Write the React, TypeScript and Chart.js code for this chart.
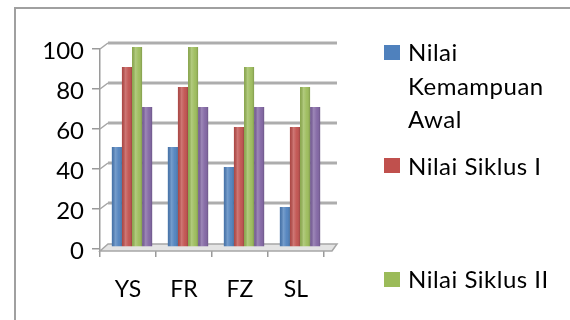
import React, { useEffect, useRef } from 'react';
import { Chart, registerables } from 'chart.js';

Chart.register(...registerables);

const categories = ['YS', 'FR', 'FZ', 'SL'];
const nilaiKemampuanAwal = [50, 50, 40, 20];
const nilaiSiklusI = [90, 80, 60, 60];
const nilaiSiklusII = [100, 100, 90, 80];
const nilaiKeempat = [70, 70, 70, 70];
const seriesNames = ['Nilai Kemampuan Awal', 'Nilai Siklus I', 'Nilai Siklus II', ''];
const legendLines = [['Nilai', 'Kemampuan', 'Awal'], ['Nilai Siklus I'], ['Nilai Siklus II']];
const yMin = 0;
const yMax = 100;
const yStep = 20;

const colors = ['#4F81BD', '#C0504D', '#9BBB59', '#8064A2'];
const FONT = 'Lato, "Open Sans", sans-serif';
const DX = 8;
const DY = 6;
const BAR_SHIFT_X = 4;
const BAR_SHIFT_Y = -2;

const wallsPlugin = {
  id: 'walls3d',
  beforeDatasetsDraw(chart: any) {
    const { ctx, chartArea, scales } = chart;
    const { left, right, bottom } = chartArea;
    const y = scales.y;
    ctx.save();
    // floor
    ctx.beginPath();
    ctx.moveTo(left, bottom + 2);
    ctx.lineTo(left + DX, bottom + 2 - DY - 1);
    ctx.lineTo(right + 13, bottom + 2 - DY - 1);
    ctx.lineTo(right + 8, bottom + 2);
    ctx.closePath();
    ctx.fillStyle = '#e4e4e4';
    ctx.fill();
    ctx.strokeStyle = '#a6a6a6';
    ctx.lineWidth = 1.5;
    ctx.stroke();
    // back wall grid lines
    for (let v = yMin + yStep; v <= yMax; v += yStep) {
      const yy = y.getPixelForValue(v);
      ctx.beginPath();
      ctx.moveTo(left, yy);
      ctx.lineTo(left + DX, yy - DY);
      ctx.strokeStyle = '#a6a6a6';
      ctx.lineWidth = 1.5;
      ctx.stroke();
      ctx.beginPath();
      ctx.moveTo(left + DX, yy - DY);
      ctx.lineTo(right + 13, yy - DY);
      ctx.strokeStyle = '#adadad';
      ctx.lineWidth = 3;
      ctx.stroke();
    }
    ctx.restore();
    ctx.save();
    ctx.translate(BAR_SHIFT_X, BAR_SHIFT_Y);
  },
  afterDatasetsDraw(chart: any) {
    const { ctx } = chart;
    chart.data.datasets.forEach((_ds: any, i: number) => {
      const meta = chart.getDatasetMeta(i);
      meta.data.forEach((el: any) => {
        const { x, y, base, width } = el.getProps(['x', 'y', 'base', 'width'], true);
        const l = x - width / 2;
        const g = ctx.createLinearGradient(l, 0, l + width, 0);
        g.addColorStop(0, 'rgba(0,0,0,0.10)');
        g.addColorStop(0.35, 'rgba(255,255,255,0.22)');
        g.addColorStop(0.7, 'rgba(255,255,255,0.04)');
        g.addColorStop(1, 'rgba(0,0,0,0.18)');
        ctx.fillStyle = g;
        ctx.fillRect(l, y, width, base - y);
      });
    });
    ctx.restore();
  },
};

export default function App() {
  const canvasRef = useRef<HTMLCanvasElement | null>(null);

  useEffect(() => {
    document.body.style.margin = '0';
    let chart: Chart | null = null;
    let cancelled = false;
    const make = () => {
      if (cancelled || !canvasRef.current) return;
      chart = new Chart(canvasRef.current, {
        type: 'bar',
        data: {
          labels: categories,
          datasets: [nilaiKemampuanAwal, nilaiSiklusI, nilaiSiklusII, nilaiKeempat].map((d, i) => ({
            label: seriesNames[i],
            data: d,
            backgroundColor: colors[i],
            borderWidth: 0,
            barPercentage: 1,
            categoryPercentage: 0.72,
          })),
        },
        options: {
          animation: false,
          responsive: false,
          devicePixelRatio: 1,
          layout: { padding: { top: 49, right: 246, bottom: 0, left: 0 } },
          plugins: { legend: { display: false }, tooltip: { enabled: false } },
          scales: {
            x: {
              offset: true,
              grid: { offset: true, drawOnChartArea: false, drawTicks: true, tickLength: 8, color: '#9a9a9a', lineWidth: 1.5 },
              border: { display: false },
              ticks: { font: { family: FONT, size: 23 }, color: '#000', padding: 19 },
              afterFit: (s: any) => { s.height = 71; },
            },
            y: {
              min: yMin,
              max: yMax,
              ticks: { stepSize: yStep, font: { family: FONT, size: 24 }, color: '#000', padding: 8, labelOffset: 2 },
              grid: { drawOnChartArea: false, drawTicks: true, tickLength: 8, color: '#9a9a9a', lineWidth: 1.5 },
              border: { display: true, color: '#9a9a9a', width: 1.5 },
              afterFit: (s: any) => { s.width = 100; },
            },
          },
        },
        plugins: [wallsPlugin],
      } as any);
    };
    const fontsApi = (document as any).fonts;
    if (fontsApi && fontsApi.load) {
      fontsApi.load('22px Lato').then(make, make);
    } else {
      make();
    }
    return () => {
      cancelled = true;
      if (chart) chart.destroy();
    };
  }, []);

  const legendTops = [35, 149, 262];
  const squareTops = [45, 158, 272];

  return (
    <div style={{ position: 'relative', width: 570, height: 320, overflow: 'hidden', background: '#fff' }}>
      <div
        style={{
          position: 'absolute',
          left: 14,
          top: 7,
          width: 700,
          height: 500,
          border: '2px solid #a0a0a0',
          boxSizing: 'border-box',
        }}
      />
      <canvas ref={canvasRef} width={570} height={320} style={{ position: 'absolute', left: 0, top: 0 }} />
      {legendLines.map((lines, i) => (
        <React.Fragment key={i}>
          <div
            style={{
              position: 'absolute',
              left: 384,
              top: squareTops[i],
              width: 16,
              height: 15,
              background: colors[i],
            }}
          />
          <div
            style={{
              position: 'absolute',
              left: 408,
              top: legendTops[i],
              fontFamily: FONT,
              fontSize: 24,
              lineHeight: '33.5px',
              letterSpacing: '0.5px',
              color: '#000',
              whiteSpace: 'nowrap',
            }}
          >
            {lines.map((t, j) => (
              <div key={j}>{t}</div>
            ))}
          </div>
        </React.Fragment>
      ))}
    </div>
  );
}
